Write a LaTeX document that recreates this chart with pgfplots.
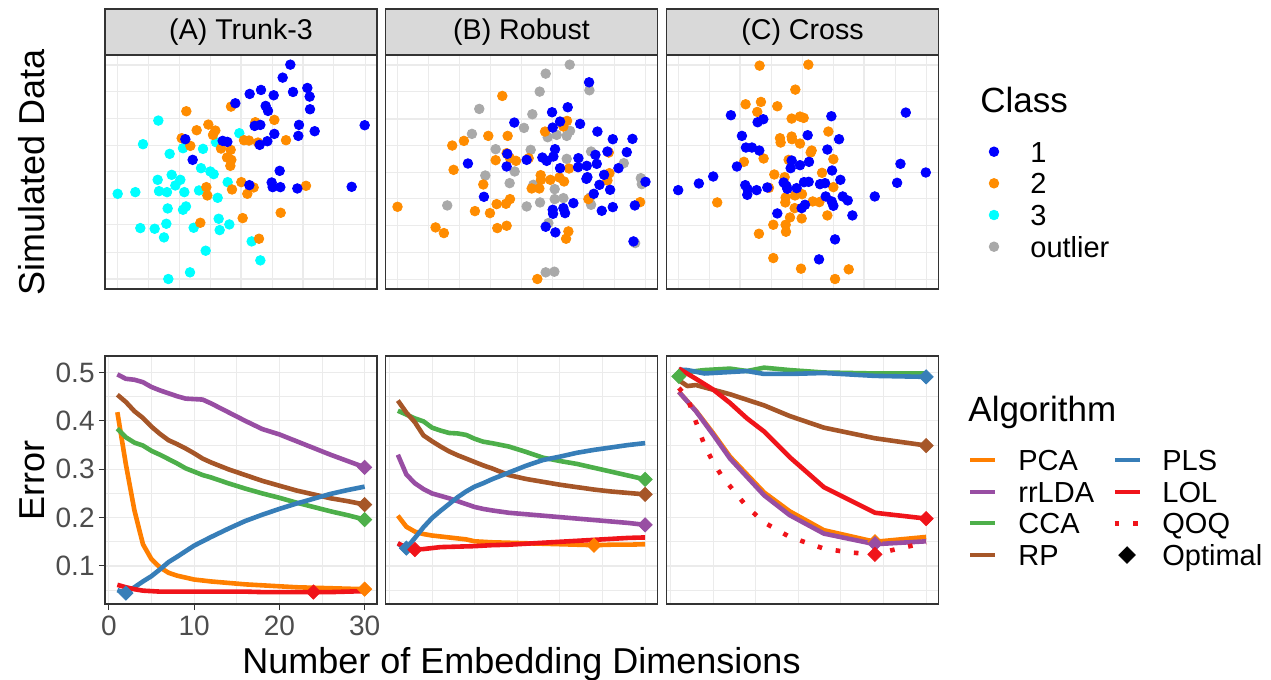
\documentclass[border=0pt]{standalone}
\usepackage{fontspec}
\setmainfont{Liberation Sans}
\usepackage{pgfplots}
\pgfplotsset{compat=1.18}
\definecolor{gtwenty}{HTML}{333333}
\definecolor{gthirty}{HTML}{4D4D4D}
\definecolor{gridc}{HTML}{EBEBEB}
\definecolor{stripc}{HTML}{D9D9D9}
\definecolor{cone}{HTML}{0000FF}
\definecolor{ctwo}{HTML}{FF8C00}
\definecolor{cthree}{HTML}{00FFFF}
\definecolor{cout}{HTML}{A9A9A9}
\definecolor{pcac}{HTML}{FF7F00}
\definecolor{rrc}{HTML}{984EA3}
\definecolor{ccac}{HTML}{4DAF4A}
\definecolor{rpc}{HTML}{A65628}
\definecolor{plsc}{HTML}{377EB8}
\definecolor{lolc}{HTML}{F0141A}
\newcommand\ftitle{\fontsize{18}{21.6}\selectfont}
\newcommand\flegt{\fontsize{17.5}{21}\selectfont}
\newcommand\fleg{\fontsize{14.5}{17}\selectfont}
\newcommand\fstrip{\fontsize{14.3}{17}\selectfont}
\newcommand\ftick{\fontsize{14}{16.8}\selectfont}
\pgfplotsset{
  panel/.style={scale only axis, width=136pt,
    axis line style={draw=gtwenty, line width=0.7pt},
    grid=both, major grid style={draw=gridc, line width=0.6pt},
    minor grid style={draw=gridc, line width=0.3pt},
    minor tick length=0pt},
  blank/.style={major tick length=0pt, xticklabels={}, yticklabels={}},
  top/.style={panel, blank, height=117pt, ymin=-718, ymax=-15},
  bot/.style={panel, height=124pt, xmin=-0.45, xmax=31.45, ymin=0.0214, ymax=0.5341,
    xtick={0,10,20,30}, minor xtick={5,15,25},
    ytick={0.1,0.2,0.3,0.4,0.5}, minor ytick={0.05,0.15,0.25,0.35,0.45}},
  ln/.style={line width=2.3pt, line join=round},
  opt/.style={only marks, mark=square*, mark size=2.5pt, mark options={rotate=45, solid}},
  dot/.style={only marks, mark=*, mark size=2.4pt, mark options={draw=none}},
}
\begin{document}
\begin{tikzpicture}
\useasboundingbox (0pt,0pt) rectangle (635.5pt,-340pt);
% ---------------- top row ----------------
\begin{axis}[top, at={(52.5pt,-27.5pt)}, anchor=north west, xmin=14, xmax=830,
  xtick={52,238,422,608,795}, minor xtick={145,330,515,700},
  ytick={-688,-525,-365,-205,-45}, minor ytick={-607,-445,-285,-125}]
\addplot[dot, cthree] coordinates {(52,-432)(105,-427)(128,-283)(174,-212)(208,-312)(172,-390)(176,-424)(200,-427)(214,-375)(225,-407)(240,-390)(252,-427)(248,-295)(308,-297)(302,-355)(330,-365)(340,-373)(296,-422)(352,-444)(382,-397)(417,-250)(347,-277)(202,-476)(248,-480)(257,-470)(120,-535)(163,-537)(198,-522)(191,-563)(280,-534)(355,-507)(358,-541)(387,-524)(316,-603)(269,-668)(204,-688)(480,-632)(454,-575)};
\addplot[dot, ctwo] coordinates {(258,-184)(392,-170)(289,-241)(324,-224)(345,-242)(338,-255)(244,-265)(270,-288)(362,-296)(391,-300)(380,-323)(393,-330)(390,-348)(431,-271)(446,-272)(473,-278)(465,-217)(522,-210)(557,-271)(318,-412)(321,-437)(395,-419)(423,-397)(441,-432)(460,-413)(617,-408)(541,-489)(427,-505)(300,-519)(476,-567)};
\addplot[dot, cone] coordinates {(570,-44)(547,-83)(448,-132)(482,-120)(520,-136)(578,-126)(621,-114)(628,-140)(629,-178)(405,-160)(496,-168)(503,-183)(463,-228)(480,-225)(596,-225)(643,-244)(594,-258)(522,-252)(501,-274)(478,-285)(367,-273)(381,-276)(255,-268)(277,-330)(538,-363)(514,-398)(517,-412)(540,-412)(591,-416)(447,-406)(754,-411)(793,-226)};
\end{axis}
\begin{axis}[top, at={(192.75pt,-27.5pt)}, anchor=north west, xmin=17, xmax=832,
  xtick={52,238,425,610,797}, minor xtick={145,330,517,703},
  ytick={-690,-527,-367,-207,-45}, minor ytick={-608,-447,-287,-125}]
\addplot[dot, cout] coordinates {(569,-44)(497,-71)(479,-125)(628,-121)(298,-177)(457,-193)(432,-234)(276,-252)(503,-262)(530,-255)(560,-258)(570,-243)(347,-298)(452,-300)(633,-305)(560,-327)(404,-365)(316,-377)(389,-400)(460,-405)(524,-418)(550,-445)(524,-448)(480,-458)(440,-470)(202,-467)(633,-465)(782,-385)(785,-403)(731,-340)(505,-520)(765,-580)(497,-668)(523,-666)(630,-443)};
\addplot[dot, ctwo] coordinates {(367,-138)(217,-287)(252,-273)(325,-258)(383,-258)(347,-331)(221,-360)(380,-310)(390,-325)(408,-333)(446,-325)(495,-245)(550,-230)(561,-213)(482,-376)(483,-390)(511,-390)(538,-383)(552,-395)(567,-356)(455,-416)(478,-416)(310,-404)(350,-463)(378,-462)(390,-448)(330,-490)(285,-484)(352,-535)(380,-528)(167,-533)(192,-550)(53,-471)(565,-545)(558,-567)(472,-688)(625,-448)(686,-308)(688,-370)(682,-392)(780,-457)};
\addplot[dot, cone] coordinates {(627,-97)(516,-187)(563,-172)(403,-218)(540,-215)(518,-233)(600,-222)(652,-245)(698,-268)(757,-267)(264,-341)(380,-350)(382,-312)(440,-330)(487,-323)(500,-333)(525,-298)(520,-320)(540,-355)(595,-325)(594,-352)(620,-348)(650,-342)(646,-315)(682,-305)(740,-307)(715,-355)(672,-375)(622,-382)(619,-387)(658,-405)(690,-420)(641,-432)(312,-441)(580,-460)(518,-480)(519,-492)(550,-475)(555,-490)(497,-531)(526,-548)(698,-472)(665,-483)(764,-467)(796,-396)(760,-575)};
\end{axis}
\begin{axis}[top, at={(333.25pt,-27.5pt)}, anchor=north west, xmin=20, xmax=835,
  xtick={55,240,427,612,798}, minor xtick={148,333,520,706},
  ytick={-690,-527,-367,-207,-45}, minor ytick={-608,-447,-287,-125}]
\addplot[dot, ctwo] coordinates {(299,-47)(445,-44)(406,-119)(257,-163)(303,-156)(352,-169)(292,-186)(395,-206)(420,-200)(431,-204)(505,-245)(360,-265)(362,-278)(395,-260)(396,-268)(420,-281)(455,-302)(452,-308)(311,-326)(252,-336)(386,-330)(520,-328)(343,-374)(374,-382)(486,-369)(520,-412)(405,-437)(426,-433)(377,-443)(376,-458)(404,-475)(458,-455)(478,-457)(390,-503)(425,-506)(502,-497)(340,-525)(377,-525)(378,-546)(297,-552)(172,-458)(340,-625)(423,-657)(525,-688)(566,-659)(327,-414)};
\addplot[dot, cone] coordinates {(213,-196)(514,-199)(737,-188)(293,-217)(310,-208)(246,-258)(443,-256)(537,-268)(258,-293)(276,-293)(298,-302)(502,-299)(231,-350)(395,-332)(392,-355)(420,-346)(447,-336)(516,-362)(160,-380)(117,-401)(55,-421)(256,-406)(263,-418)(262,-435)(290,-421)(322,-413)(371,-398)(379,-408)(382,-417)(410,-415)(432,-397)(446,-396)(480,-403)(495,-400)(541,-390)(497,-440)(515,-455)(520,-468)(548,-440)(563,-452)(435,-465)(425,-475)(352,-491)(577,-497)(644,-440)(711,-399)(721,-342)(797,-368)(525,-569)(477,-629)};
\end{axis}
% ---------------- bottom row ----------------
\begin{axis}[bot, at={(52.5pt,-178pt)}, anchor=north west,
  tick pos=left, tick align=outside, major tick length=3pt,
  tick style={draw=gtwenty, line width=0.5pt},
  /pgf/number format/assume math mode=true,
  xticklabel style={font=\ftick, text=gthirty, anchor=base, inner sep=0pt, yshift=-13pt},
  yticklabel style={font=\ftick, text=gthirty, anchor=east, inner sep=0pt, xshift=-2pt,
    /pgf/number format/fixed, /pgf/number format/fixed zerofill, /pgf/number format/precision=1}]
\addplot[ln, pcac] coordinates {(1,0.418)(2,0.31)(3,0.215)(4,0.145)(5,0.114)(6,0.097)(7,0.086)(8,0.080)(9,0.076)(10,0.072)(12,0.068)(14,0.065)(16,0.062)(18,0.060)(20,0.058)(22,0.056)(24,0.055)(26,0.054)(28,0.053)(30,0.052)};
\addplot[ln, rrc] coordinates {(1,0.496)(2,0.487)(3,0.485)(4,0.480)(5,0.470)(6,0.463)(7,0.457)(8,0.451)(9,0.446)(10,0.445)(11,0.444)(12,0.436)(14,0.418)(16,0.400)(18,0.383)(20,0.372)(22,0.358)(24,0.344)(26,0.330)(28,0.317)(30,0.304)};
\addplot[ln, ccac] coordinates {(1,0.384)(2,0.366)(3,0.355)(4,0.349)(5,0.338)(6,0.330)(7,0.321)(8,0.312)(9,0.302)(10,0.295)(11,0.288)(12,0.283)(14,0.271)(16,0.260)(18,0.250)(20,0.241)(22,0.231)(24,0.222)(26,0.213)(28,0.205)(30,0.196)};
\addplot[ln, rpc] coordinates {(1,0.454)(2,0.439)(3,0.420)(4,0.406)(5,0.388)(6,0.373)(7,0.360)(8,0.352)(9,0.343)(10,0.333)(11,0.322)(12,0.314)(14,0.300)(16,0.288)(18,0.276)(20,0.266)(22,0.256)(24,0.248)(26,0.240)(28,0.234)(30,0.227)};
\addplot[ln, plsc] coordinates {(1,0.050)(2,0.044)(3,0.056)(4,0.068)(5,0.079)(6,0.093)(7,0.108)(8,0.119)(10,0.142)(12,0.160)(14,0.177)(16,0.193)(18,0.206)(20,0.218)(22,0.229)(24,0.239)(26,0.249)(28,0.257)(30,0.264)};
\addplot[ln, lolc] coordinates {(1,0.061)(2,0.056)(3,0.052)(4,0.049)(5,0.048)(6,0.047)(8,0.047)(10,0.047)(12,0.047)(14,0.047)(16,0.047)(18,0.046)(20,0.046)(22,0.046)(24,0.046)(26,0.046)(28,0.047)(30,0.048)};
\addplot[opt, pcac] coordinates {(30,0.052)};
\addplot[opt, rrc] coordinates {(30,0.304)};
\addplot[opt, ccac] coordinates {(30,0.196)};
\addplot[opt, rpc] coordinates {(30,0.227)};
\addplot[opt, plsc] coordinates {(2,0.044)};
\addplot[opt, lolc] coordinates {(24,0.046)};
\end{axis}
\begin{axis}[bot, blank, at={(192.75pt,-178pt)}, anchor=north west]
\addplot[ln, pcac] coordinates {(1,0.204)(2,0.181)(3,0.171)(4,0.166)(5,0.163)(6,0.161)(7,0.159)(8,0.157)(9,0.155)(10,0.151)(12,0.149)(14,0.148)(16,0.147)(18,0.146)(20,0.145)(22,0.144)(24,0.143)(26,0.144)(28,0.144)(30,0.145)};
\addplot[ln, rrc] coordinates {(1,0.330)(2,0.289)(3,0.271)(4,0.259)(5,0.250)(6,0.245)(7,0.240)(8,0.234)(9,0.228)(10,0.222)(11,0.218)(12,0.215)(14,0.210)(16,0.207)(18,0.204)(20,0.201)(22,0.198)(24,0.195)(26,0.192)(28,0.189)(30,0.185)};
\addplot[ln, ccac] coordinates {(1,0.421)(2,0.413)(3,0.405)(4,0.399)(5,0.386)(6,0.380)(7,0.375)(8,0.374)(9,0.371)(10,0.363)(11,0.357)(12,0.354)(14,0.347)(16,0.336)(18,0.324)(20,0.317)(22,0.311)(24,0.303)(26,0.295)(28,0.287)(30,0.279)};
\addplot[ln, rpc] coordinates {(1,0.442)(2,0.417)(3,0.397)(4,0.370)(5,0.358)(6,0.347)(7,0.337)(8,0.329)(9,0.322)(10,0.315)(11,0.308)(12,0.302)(14,0.288)(16,0.280)(18,0.274)(20,0.268)(22,0.263)(24,0.258)(26,0.254)(28,0.251)(30,0.248)};
\addplot[ln, plsc] coordinates {(1,0.146)(2,0.137)(3,0.158)(4,0.180)(5,0.199)(6,0.214)(7,0.228)(8,0.242)(9,0.254)(10,0.264)(11,0.271)(12,0.279)(14,0.293)(16,0.307)(18,0.319)(20,0.326)(22,0.334)(24,0.340)(26,0.345)(28,0.350)(30,0.354)};
\addplot[ln, lolc] coordinates {(1,0.147)(2,0.138)(3,0.134)(4,0.135)(5,0.137)(6,0.139)(8,0.140)(10,0.141)(12,0.143)(14,0.144)(16,0.146)(18,0.148)(20,0.150)(22,0.152)(24,0.154)(26,0.156)(28,0.158)(30,0.159)};
\addplot[opt, pcac] coordinates {(24,0.143)};
\addplot[opt, rrc] coordinates {(30,0.185)};
\addplot[opt, ccac] coordinates {(30,0.279)};
\addplot[opt, rpc] coordinates {(30,0.248)};
\addplot[opt, plsc] coordinates {(2,0.137)};
\addplot[opt, lolc] coordinates {(3,0.134)};
\end{axis}
\begin{axis}[bot, blank, at={(333.25pt,-178pt)}, anchor=north west]
\addplot[ln, pcac] coordinates {(1,0.460)(3,0.421)(5,0.375)(7,0.326)(11,0.252)(14,0.213)(18,0.174)(24,0.150)(30,0.160)};
\addplot[ln, rrc] coordinates {(1,0.460)(3,0.420)(5,0.372)(7,0.322)(11,0.246)(14,0.205)(18,0.167)(24,0.145)(30,0.151)};
\addplot[ln, ccac] coordinates {(1,0.492)(2,0.501)(4,0.505)(7,0.508)(9,0.503)(11,0.510)(14,0.505)(18,0.500)(24,0.498)(30,0.498)};
\addplot[ln, rpc] coordinates {(1,0.484)(2,0.472)(3,0.474)(7,0.455)(11,0.432)(14,0.410)(18,0.386)(24,0.364)(30,0.349)};
\addplot[ln, plsc] coordinates {(1,0.506)(2,0.505)(4,0.498)(7,0.501)(9,0.503)(11,0.497)(14,0.497)(18,0.499)(24,0.493)(30,0.491)};
\addplot[ln, lolc] coordinates {(1,0.508)(3,0.487)(5,0.465)(7,0.437)(9,0.405)(11,0.378)(14,0.325)(18,0.263)(24,0.210)(30,0.198)};
\addplot[lolc, line width=2.3pt, line cap=butt, dash pattern=on 2.3pt off 6.9pt] coordinates {(1,0.468)(2,0.448)(3,0.398)(4,0.350)(5,0.315)(6,0.287)(7,0.265)(9,0.222)(11,0.190)(14,0.160)(18,0.136)(21,0.128)(24,0.124)(27,0.137)(30,0.148)};
\addplot[opt, pcac] coordinates {(24,0.150)};
\addplot[opt, rrc] coordinates {(24,0.146)};
\addplot[opt, ccac] coordinates {(1,0.492)};
\addplot[opt, rpc] coordinates {(30,0.349)};
\addplot[opt, plsc] coordinates {(30,0.491)};
\addplot[opt, lolc] coordinates {(30,0.198)};
\addplot[opt, lolc] coordinates {(24,0.124)};
\end{axis}
% ---------------- overlay: strips, titles, legends ----------------
\begin{axis}[at={(0pt,0pt)}, anchor=north west, scale only axis, width=635.5pt, height=340pt,
  xmin=0, xmax=1271, ymin=0, ymax=680, y dir=reverse, hide axis, clip=false]
\draw[fill=stripc, draw=gtwenty, line width=0.6pt] (axis cs:105,9) rectangle (axis cs:377,55);
\draw[fill=stripc, draw=gtwenty, line width=0.6pt] (axis cs:385.5,9) rectangle (axis cs:657.5,55);
\draw[fill=stripc, draw=gtwenty, line width=0.6pt] (axis cs:666.5,9) rectangle (axis cs:938.5,55);
\node[font=\fstrip, inner sep=0pt] at (axis cs:241,32) {(A) Trunk-3};
\node[font=\fstrip, inner sep=0pt] at (axis cs:521.5,32) {(B) Robust};
\node[font=\fstrip, inner sep=0pt] at (axis cs:802.5,32) {(C) Cross};
\node[rotate=90, anchor=base, font=\ftitle, inner sep=0pt] at (axis cs:44,172) {Simulated Data};
\node[rotate=90, anchor=base, font=\ftitle, inner sep=0pt] at (axis cs:44,480) {Error};
\node[anchor=base, font=\ftitle, inner sep=0pt] at (axis cs:521.5,673) {Number of Embedding Dimensions};
% Class legend
\node[anchor=base west, font=\flegt, inner sep=0pt] at (axis cs:980,112.7) {Class};
\addplot[dot, cone] coordinates {(994,151.7)};
\addplot[dot, ctwo] coordinates {(994,183.3)};
\addplot[dot, cthree] coordinates {(994,215)};
\addplot[dot, cout] coordinates {(994,246.7)};
\node[anchor=base west, font=\fleg, inner sep=0pt] at (axis cs:1030,162) {1};
\node[anchor=base west, font=\fleg, inner sep=0pt] at (axis cs:1030,193.7) {2};
\node[anchor=base west, font=\fleg, inner sep=0pt] at (axis cs:1030,225.4) {3};
\node[anchor=base west, font=\fleg, inner sep=0pt] at (axis cs:1030,257.1) {outlier};
% Algorithm legend
\node[anchor=base west, font=\flegt, inner sep=0pt] at (axis cs:968,421) {Algorithm};
\addplot[pcac, line width=2pt] coordinates {(970,460)(995,460)};
\addplot[rrc, line width=2pt] coordinates {(970,491.7)(995,491.7)};
\addplot[ccac, line width=2pt] coordinates {(970,523.3)(995,523.3)};
\addplot[rpc, line width=2pt] coordinates {(970,555)(995,555)};
\addplot[plsc, line width=2pt] coordinates {(1115,460)(1140,460)};
\addplot[lolc, line width=2pt] coordinates {(1115,491.7)(1140,491.7)};
\addplot[lolc, line width=2.3pt, line cap=butt, dash pattern=on 2.3pt off 7pt] coordinates {(1114.5,523.3)(1141,523.3)};
\addplot[only marks, mark=square*, mark size=2.9pt, mark options={rotate=45}, black] coordinates {(1127,555)};
\node[anchor=base west, font=\fleg, inner sep=0pt] at (axis cs:1018,470.4) {PCA};
\node[anchor=base west, font=\fleg, inner sep=0pt] at (axis cs:1018,502.1) {rrLDA};
\node[anchor=base west, font=\fleg, inner sep=0pt] at (axis cs:1018,533.7) {CCA};
\node[anchor=base west, font=\fleg, inner sep=0pt] at (axis cs:1018,565.4) {RP};
\node[anchor=base west, font=\fleg, inner sep=0pt] at (axis cs:1162,470.4) {PLS};
\node[anchor=base west, font=\fleg, inner sep=0pt] at (axis cs:1162,502.1) {LOL};
\node[anchor=base west, font=\fleg, inner sep=0pt] at (axis cs:1162,533.7) {QOQ};
\node[anchor=base west, font=\fleg, inner sep=0pt] at (axis cs:1162,565.4) {Optimal};
\end{axis}
\end{tikzpicture}
\end{document}
